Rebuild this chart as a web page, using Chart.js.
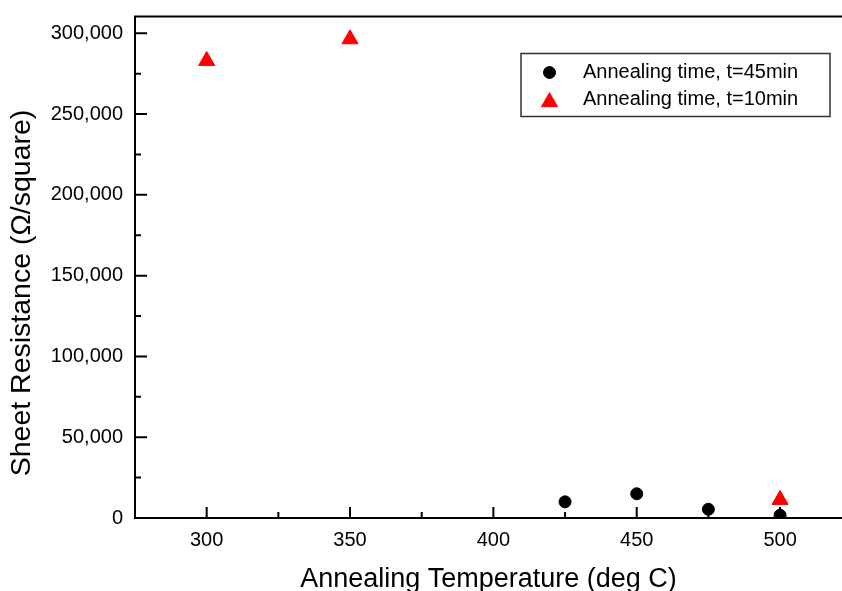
<!DOCTYPE html>
<html>
<head>
<meta charset="utf-8">
<script src="https://cdn.jsdelivr.net/npm/chart.js@4.4.0/dist/chart.umd.min.js"></script>
<style>
  body { margin: 0; background: #fff; }
  canvas { display: block; }
</style>
</head>
<body>
<canvas id="grafico" width="842" height="591"></canvas>
<script>
// datos
const temps45 = [425, 450, 475, 500];
const res45 = [10000, 15000, 5400, 1700];
const temps10 = [300, 350, 500];
const res10 = [283000, 296400, 11300];
const seriesLabels = ['Annealing time, t=45min', 'Annealing time, t=10min'];

const xTickValues = [300, 350, 400, 450, 500];
const xMinorValues = [325, 375, 425, 475];
const yTickValues = [0, 50000, 100000, 150000, 200000, 250000, 300000];
const yMinorValues = [25000, 75000, 125000, 175000, 225000, 275000];

const xTitle = 'Annealing Temperature (deg C)';
const yTitle = 'Sheet Resistance (\u03A9/square)';

const fuente = '"Liberation Sans", Arial, sans-serif';
Chart.defaults.font.family = fuente;
Chart.defaults.color = '#000';

// ticks hacia dentro, borde superior
const marcas = {
    id: 'marcas',
    beforeDatasetsDraw(chart) {
        const { ctx, chartArea, scales } = chart;
        const x = scales.x, y = scales.y;
        ctx.save();
        ctx.strokeStyle = '#000';
        ctx.lineWidth = 2;
        ctx.beginPath();
        xTickValues.forEach(v => {
            const px = x.getPixelForValue(v);
            ctx.moveTo(px, chartArea.bottom);
            ctx.lineTo(px, chartArea.bottom - 11);
        });
        xMinorValues.forEach(v => {
            const px = x.getPixelForValue(v);
            ctx.moveTo(px, chartArea.bottom);
            ctx.lineTo(px, chartArea.bottom - 6);
        });
        yTickValues.forEach(v => {
            const py = y.getPixelForValue(v);
            ctx.moveTo(chartArea.left, py);
            ctx.lineTo(chartArea.left + 12, py);
        });
        yMinorValues.forEach(v => {
            const py = y.getPixelForValue(v);
            ctx.moveTo(chartArea.left, py);
            ctx.lineTo(chartArea.left + 6, py);
        });
        ctx.moveTo(chartArea.left - 1, chartArea.top);
        ctx.lineTo(chart.width, chartArea.top);
        ctx.stroke();

        // titulo eje y
        ctx.translate(22, 293);
        ctx.rotate(-Math.PI / 2);
        ctx.fillStyle = '#000';
        ctx.font = '28.5px ' + fuente;
        ctx.textAlign = 'center';
        ctx.textBaseline = 'middle';
        ctx.fillText(yTitle, 0, 0);
        ctx.restore();
    }
};

// leyenda con recuadro
const leyenda = {
    id: 'leyenda',
    afterDraw(chart) {
        const ctx = chart.ctx;
        ctx.save();
        ctx.strokeStyle = '#333';
        ctx.lineWidth = 1.5;
        ctx.strokeRect(521, 53.5, 309, 63);
        const filas = [72.5, 99.5];
        chart.data.datasets.forEach((ds, i) => {
            const yOff = ds.pointStyle === 'triangle' ? 2.5 : 0;
            ctx.fillStyle = ds.backgroundColor;
            ctx.strokeStyle = ds.borderColor;
            ctx.lineWidth = ds.borderWidth;
            Chart.helpers.drawPoint(ctx, {
                pointStyle: ds.pointStyle,
                radius: ds.pointRadius,
                borderWidth: ds.borderWidth,
                rotation: 0
            }, 549.5, filas[i] + yOff);
            ctx.fillStyle = '#000';
            ctx.font = '20px ' + fuente;
            ctx.textAlign = 'left';
            ctx.textBaseline = 'middle';
            ctx.fillText(ds.label, 583, filas[i]);
        });
        ctx.restore();
    }
};

new Chart(document.getElementById('grafico'), {
    type: 'scatter',
    data: {
        datasets: [{
            label: seriesLabels[0],
            data: temps45.map((t, i) => ({ x: t, y: res45[i] })),
            pointStyle: 'circle',
            pointRadius: 6,
            borderWidth: 1,
            backgroundColor: '#000',
            borderColor: '#000'
        }, {
            label: seriesLabels[1],
            data: temps10.map((t, i) => ({ x: t, y: res10[i] })),
            pointStyle: 'triangle',
            pointRadius: 9.3,
            borderWidth: 1,
            backgroundColor: '#ff0000',
            borderColor: '#ff0000'
        }]
    },
    options: {
        responsive: false,
        animation: false,
        devicePixelRatio: 1,
        layout: { autoPadding: false, padding: { top: 16.5, left: 0, right: 0, bottom: 0 } },
        plugins: {
            legend: { display: false },
            tooltip: { enabled: false }
        },
        scales: {
            x: {
                type: 'linear',
                min: 275,
                max: 521.6,
                afterBuildTicks: s => { s.ticks = xTickValues.map(v => ({ value: v })); },
                afterFit: s => { s.height = 73; s.paddingLeft = 0; s.paddingRight = 0; },
                ticks: { font: { size: 20 }, color: '#000', padding: 10 },
                grid: { display: false, drawTicks: false },
                border: { display: true, width: 2, color: '#000' },
                title: {
                    display: true,
                    text: xTitle,
                    color: '#000',
                    font: { size: 27, lineHeight: 0.85 },
                    padding: 0
                }
            },
            y: {
                type: 'linear',
                min: 0,
                max: 310400,
                afterBuildTicks: s => { s.ticks = yTickValues.map(v => ({ value: v })); },
                afterFit: s => { s.width = 135; s.paddingTop = 0; s.paddingBottom = 0; },
                ticks: {
                    font: { size: 20 },
                    color: '#000',
                    padding: 12,
                    callback: v => v.toLocaleString('en-US')
                },
                grid: { display: false, drawTicks: false },
                border: { display: true, width: 2, color: '#000' }
            }
        }
    },
    plugins: [marcas, leyenda]
});
</script>
</body>
</html>
